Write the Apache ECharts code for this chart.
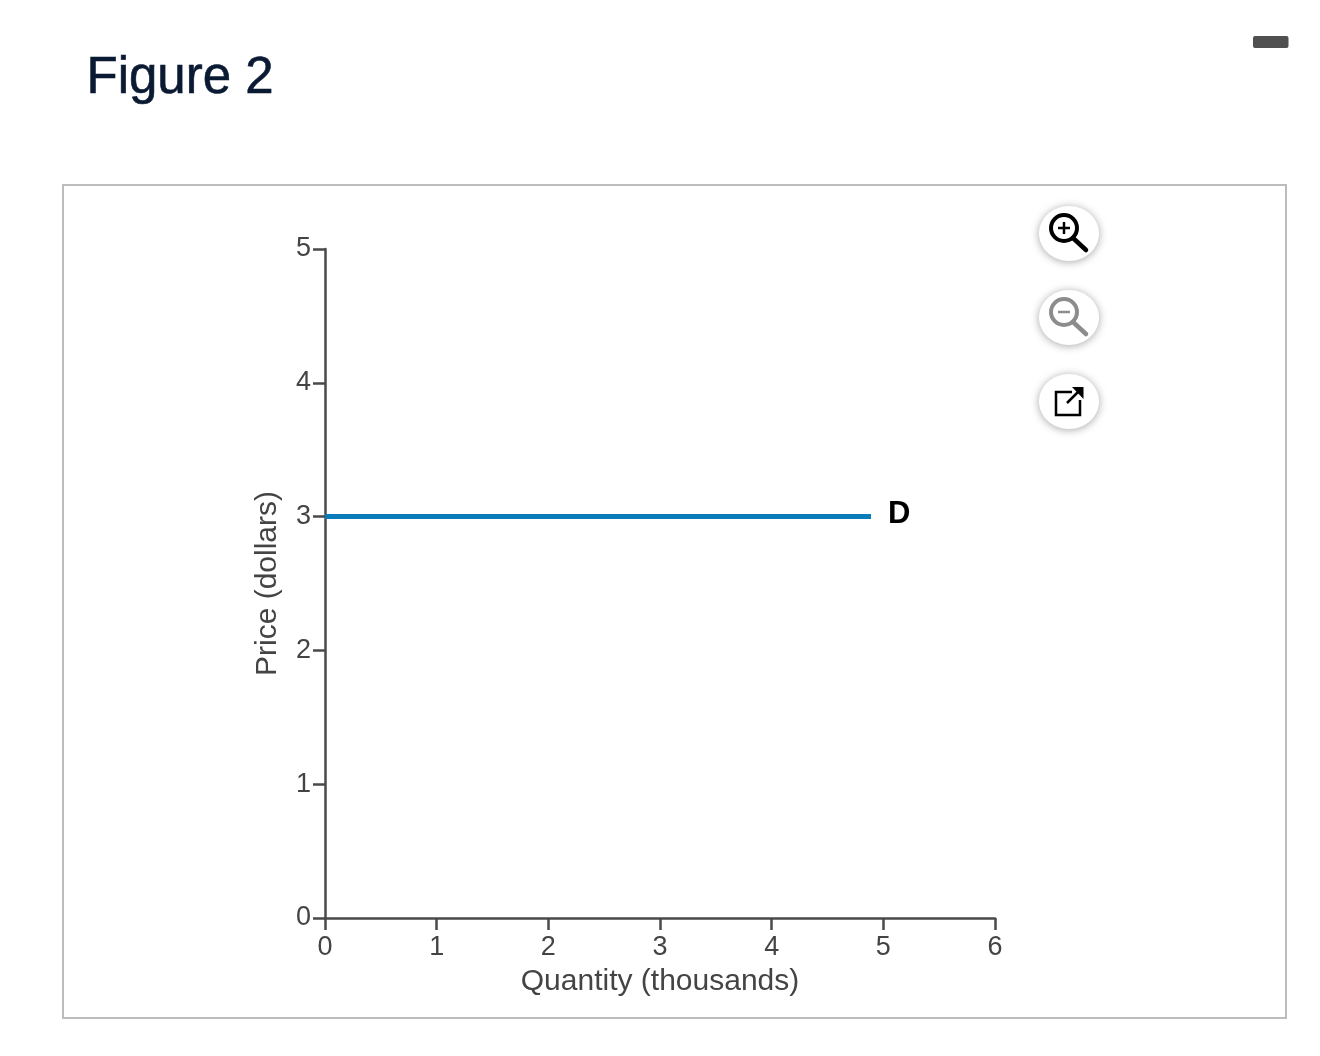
<!DOCTYPE html>
<html><head><meta charset="utf-8">
<style>html,body{margin:0;padding:0;background:#fff}#c{width:1320px;height:1056px}</style>
<script src="https://cdn.jsdelivr.net/npm/echarts@6/dist/echarts.min.js"></script>
</head><body><div id="c"></div>
<script>
const xTicks = [0,1,2,3,4,5,6];
const yTicks = [0,1,2,3,4,5];
const demandQuantity = [0, 4.89];
const demandPrice = [3, 3];
const seriesName = 'D';
const titleText = 'Figure 2';
const xName = 'Quantity (thousands)';
const yName = 'Price (dollars)';
const FONT = '"Liberation Sans", Arial, sans-serif';
const AX = '#4a4a4a', TXT = '#444444';

function btn(cx, cy, children) {
  return [{
    type: 'ellipse', shape: {cx, cy, rx: 30, ry: 27.5},
    style: {fill: '#fff', shadowBlur: 9, shadowColor: 'rgba(0,0,0,0.35)', shadowOffsetY: 1}, z: 5
  }].concat(children.map(c => Object.assign({z: 6}, c)));
}
function magnifier(cx, cy, col, sign) {
  const mx = cx - 5, my = cy - 5.5;
  const k = [
    {type:'circle', shape:{cx:mx, cy:my, r:13}, style:{fill:'none', stroke:col, lineWidth:4}},
    {type:'line', shape:{x1:mx+9, y1:my+10, x2:mx+22, y2:my+22}, style:{stroke:col, lineWidth:4.5, lineCap:'round'}},
    {type:'line', shape:{x1:mx-6, y1:my, x2:mx+6, y2:my}, style:{stroke:col, lineWidth:2.5}}
  ];
  if (sign) k.push({type:'line', shape:{x1:mx, y1:my-6, x2:mx, y2:my+6}, style:{stroke:col, lineWidth:2.5}});
  return k;
}
const graphics = [
  {type:'rect', shape:{x:63, y:185, width:1223, height:833}, style:{fill:'#fff', stroke:'#bdbdbd', lineWidth:2}, z:0},
  {type:'rect', shape:{x:1253, y:36, width:35.5, height:12, r:2}, style:{fill:'#505050'}, z:1}
].concat(
  btn(1069, 233.5, magnifier(1069, 233.5, '#000', true)),
  btn(1069, 317.5, magnifier(1069, 317.5, '#8c8c8c', false)),
  btn(1069, 401.5, [
    {type:'polyline', shape:{points:[[1072,392],[1056,392],[1056,415],[1080,415],[1080,400]]}, style:{fill:'none', stroke:'#000', lineWidth:2.5}},
    {type:'line', shape:{x1:1067, y1:403, x2:1078, y2:392}, style:{stroke:'#000', lineWidth:2.5}},
    {type:'polygon', shape:{points:[[1072,387],[1083.5,387],[1083.5,399]]}, style:{fill:'#000'}}
  ])
);

const chart = echarts.init(document.getElementById('c'), null, {renderer:'canvas'});
chart.setOption({
  animation: false,
  backgroundColor: '#fff',
  title: {
    text: titleText, left: 81.5, top: 48,
    textStyle: {fontFamily: FONT, fontSize: 51, fontWeight: 'normal', color: '#0b1a33', textBorderColor: '#0b1a33', textBorderWidth: 0.6}
  },
  grid: {left: 325, top: 249, width: 670, height: 669, containLabel: false},
  xAxis: {
    type: 'value', min: 0, max: 6, interval: 1,
    name: xName, nameLocation: 'middle', nameGap: 49,
    nameTextStyle: {fontFamily: FONT, fontSize: 30, color: TXT},
    axisLine: {show: true, lineStyle: {color: AX, width: 2.5}},
    axisTick: {show: true, length: 12, lineStyle: {color: AX, width: 2.5}},
    axisLabel: {fontFamily: FONT, fontSize: 27, color: TXT, margin: 16, showMinLabel: true, showMaxLabel: true, hideOverlap: false,
      formatter: v => String(xTicks[v])},
    splitLine: {show: false}
  },
  yAxis: {
    type: 'value', min: 0, max: 5, interval: 1,
    name: yName, nameLocation: 'middle', nameGap: 42,
    nameTextStyle: {fontFamily: FONT, fontSize: 30, color: TXT},
    axisLine: {show: true, lineStyle: {color: AX, width: 2.5}},
    axisTick: {show: true, length: 12, lineStyle: {color: AX, width: 2.5}},
    axisLabel: {fontFamily: FONT, fontSize: 27, color: TXT, margin: 14, padding: [2,0,0,0], showMinLabel: true, showMaxLabel: true, hideOverlap: false,
      formatter: v => String(yTicks[v])},
    splitLine: {show: false}
  },
  series: [{
    type: 'line', name: seriesName,
    data: demandQuantity.map((q, i) => [q, demandPrice[i]]),
    showSymbol: false, symbol: 'none', z: 3,
    lineStyle: {color: '#0a7cba', width: 5, cap: 'butt'},
    endLabel: {show: true, formatter: seriesName, distance: 17, offset: [0, -2],
      fontFamily: FONT, fontSize: 31, fontWeight: 'bold', color: '#000'}
  }],
  graphic: {elements: graphics}
});
</script></body></html>
